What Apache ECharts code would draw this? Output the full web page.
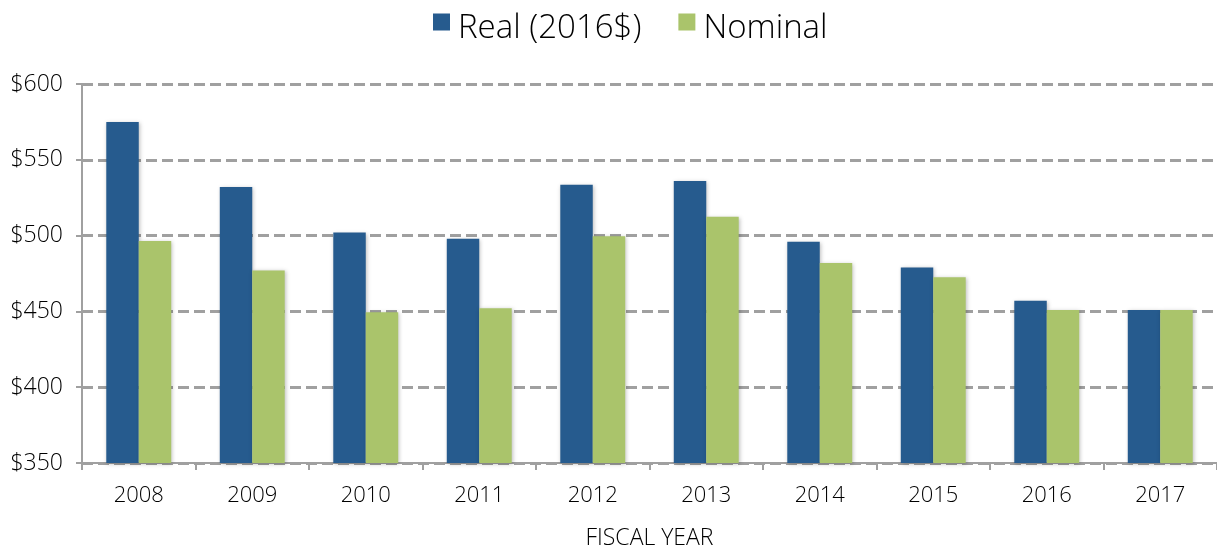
<!DOCTYPE html>
<html>
<head>
<meta charset="utf-8">
<script src="https://cdn.jsdelivr.net/npm/echarts@6/dist/echarts.min.js"></script>
<style>
html, body { margin: 0; padding: 0; background: #fff; }
#chart { width: 1217px; height: 548px; }
</style>
</head>
<body>
<div id="chart"></div>
<script>
var years = ['2008', '2009', '2010', '2011', '2012', '2013', '2014', '2015', '2016', '2017'];
var realData = [575, 532, 502, 498, 533.5, 536, 496, 479, 457, 451];
var nominalData = [496.5, 477, 449.5, 452, 499.5, 512.5, 482, 472.5, 451, 451];
var yTicks = [350, 400, 450, 500, 550, 600];

var font = '"Open Sans", "Noto Sans", sans-serif';
var barShadow = {
	shadowBlur: 4,
	shadowColor: 'rgba(0,0,0,0.25)',
	shadowOffsetX: 1,
	shadowOffsetY: 1
};
// square sitting in the upper part of the legend item (tiny speck keeps the box tall)
var legendIcon = 'path://M0,0L17,0L17,17L0,17Z M0,30L0.01,30L0.01,30.01Z';

var myChart = echarts.init(document.getElementById('chart'));
var option = {
	animation: false,
	legend: {
		top: 7,
		left: 428,
		itemWidth: 17,
		itemHeight: 30,
		itemGap: 37,
		icon: legendIcon,
		textStyle: {
			fontFamily: font,
			fontSize: 33,
			fontWeight: 300,
			color: '#000',
			padding: [0, 0, 0, 3]
		},
		data: ['Real (2016$)', 'Nominal']
	},
	grid: {
		left: 82,
		right: 0,
		top: 84,
		bottom: 85,
		outerBoundsMode: 'none'
	},
	xAxis: {
		type: 'category',
		data: years,
		name: 'FISCAL YEAR',
		nameLocation: 'middle',
		nameGap: 64,
		nameTextStyle: {
			fontFamily: font,
			fontSize: 23,
			fontWeight: 300,
			color: '#000'
		},
		axisLine: { lineStyle: { color: '#a0a0a0', width: 2 } },
		axisTick: { show: true, length: 7, lineStyle: { color: '#a0a0a0', width: 2 } },
		axisLabel: {
			margin: 22,
			fontFamily: font,
			fontSize: 22,
			fontWeight: 300,
			color: '#000'
		}
	},
	yAxis: {
		type: 'value',
		min: yTicks[0],
		max: yTicks[yTicks.length - 1],
		interval: 50,
		axisLine: { show: true, lineStyle: { color: '#a0a0a0', width: 2 } },
		axisTick: { show: true, length: 6, lineStyle: { color: '#a0a0a0', width: 2 } },
		axisLabel: {
			margin: 19,
			fontFamily: font,
			fontSize: 23,
			fontWeight: 300,
			color: '#000',
			formatter: '${value}'
		},
		splitLine: {
			lineStyle: { color: '#a0a0a0', width: 3, type: [11, 5] }
		}
	},
	series: [{
			name: 'Real (2016$)',
			type: 'bar',
			barWidth: '28.6%',
			barGap: '0%',
			itemStyle: Object.assign({ color: '#265b8e' }, barShadow),
			data: realData
		},
		{
			name: 'Nominal',
			type: 'bar',
			barWidth: '28.6%',
			barGap: '0%',
			itemStyle: Object.assign({ color: '#aac46b' }, barShadow),
			data: nominalData
		}
	]
};
myChart.setOption(option);
</script>
</body>
</html>
